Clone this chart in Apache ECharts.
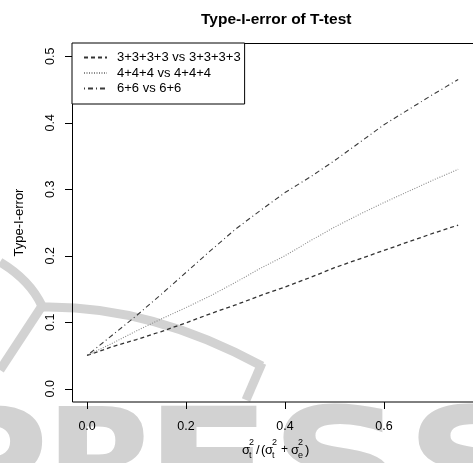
<!DOCTYPE html>
<html>
<head>
<meta charset="utf-8">
<script src="https://cdn.jsdelivr.net/npm/echarts@6/dist/echarts.min.js"></script>
<style>html,body{margin:0;padding:0;background:#fff}#c{width:473px;height:463px}</style>
</head>
<body>
<div id="c"></div>
<script>
const titleText = 'Type-I-error of T-test';
const yAxisName = 'Type-I-error';
const seriesNames = ['3+3+3+3 vs 3+3+3+3', '4+4+4 vs 4+4+4', '6+6 vs 6+6'];
const xValues = [0, 0.05, 0.1, 0.15, 0.2, 0.25, 0.3, 0.35, 0.4, 0.45, 0.5, 0.55, 0.6, 0.65, 0.7, 0.75];
const vals3333 = [0.050, 0.063, 0.074, 0.086, 0.099, 0.113, 0.126, 0.140, 0.153, 0.167, 0.182, 0.195, 0.208, 0.221, 0.234, 0.246];
const vals444 = [0.050, 0.068, 0.087, 0.105, 0.122, 0.140, 0.160, 0.181, 0.200, 0.222, 0.243, 0.262, 0.280, 0.297, 0.314, 0.330];
const vals66 = [0.050, 0.080, 0.110, 0.142, 0.175, 0.208, 0.240, 0.268, 0.295, 0.318, 0.343, 0.370, 0.397, 0.420, 0.443, 0.465];
const xTickValues = [0, 0.2, 0.4, 0.6];
const yTickValues = [0, 0.1, 0.2, 0.3, 0.4, 0.5];
const watermarkLetters = ['P', 'R', 'E', 'S', 'S'];

const chart = echarts.init(document.getElementById('c'), null, {renderer: 'canvas'});
const FONT = 'Liberation Sans';
const toPairs = v => xValues.map((x, i) => [x, v[i]]);
const styles = [
  {color: '#333', width: 1.3, type: [4, 3]},
  {color: '#8a8a8a', width: 1.1, type: [1, 1.5]},
  {color: '#3a3a3a', width: 1.1, type: [1, 3, 5, 3]}
];
const allVals = [vals3333, vals444, vals66];
const X_OFF = 13.5, Y_OFF = 15, TICK = 7;
const GRID = {left: 87.1, top: 56.3, width: 392.9, height: 332.4};
const X_MAX = 0.78, Y_MAX = 0.5;

const lineSeries = seriesNames.map((n, i) => ({
  name: n, type: 'line', data: toPairs(allVals[i]), symbol: 'none', z: 3, clip: false,
  lineStyle: {color: styles[i].color, width: styles[i].width, type: styles[i].type},
  itemStyle: {color: styles[i].color}
}));

chart.setOption({
  animation: false,
  backgroundColor: '#fff',
  title: {text: titleText, left: 196, top: 7,
    textStyle: {fontFamily: FONT, fontSize: 15.5, fontWeight: 'bold', color: '#000'}},
  legend: {orient: 'vertical', left: 72, top: 43, padding: [8, 4, 9, 11],
    borderColor: '#000', borderWidth: 1, backgroundColor: '#fff', z: 6,
    itemWidth: 23, itemHeight: 14, itemGap: 2.5,
    itemStyle: {opacity: 0},
    textStyle: {fontFamily: FONT, fontSize: 13, color: '#000', padding: [0, 0, 0, 5]},
    data: seriesNames},
  grid: Object.assign({show: false}, GRID),
  xAxis: {type: 'value', min: 0, max: X_MAX, interval: 0.2, offset: X_OFF,
    axisLine: {show: false, onZero: false}, splitLine: {show: false},
    axisTick: {show: false},
    axisLabel: {margin: 18, fontFamily: FONT, fontSize: 12.5, color: '#000', showMaxLabel: false,
      formatter: v => v.toFixed(1)}},
  yAxis: {type: 'value', min: 0, max: Y_MAX, interval: 0.1, offset: Y_OFF,
    name: yAxisName, nameLocation: 'middle', nameGap: 46, nameRotate: 90,
    nameTextStyle: {fontFamily: FONT, fontSize: 13, color: '#000'},
    axisLine: {show: false, onZero: false}, splitLine: {show: false},
    axisTick: {show: false},
    axisLabel: {margin: 15, rotate: 90, fontFamily: FONT, fontSize: 12.5, color: '#000',
      formatter: v => v.toFixed(1)}},
  series: lineSeries
});

// pixel position of a tick value, through the chart's own axis scale
function xPix(v) {
  let p = chart.convertToPixel({xAxisIndex: 0}, v);
  if (Array.isArray(p)) p = p[0];
  if (!isFinite(p)) p = GRID.left + v / X_MAX * GRID.width;
  return p;
}
function yPix(v) {
  let p = chart.convertToPixel({yAxisIndex: 0}, v);
  if (Array.isArray(p)) p = p[1];
  if (!isFinite(p)) p = GRID.top + (1 - v / Y_MAX) * GRID.height;
  return p;
}

const wmColor = '#d2d2d2';
const wmX = [-72, 45, 144, 270, 405];
const wmSX = [1.1, 1.0, 1.25, 1.25, 1.25];
const graphics = [];
watermarkLetters.forEach((ch, i) => {
  graphics.push({type: 'text', z: -10, x: wmX[i], y: 401, scaleX: wmSX[i],
    style: {text: ch, font: 'bold 150px "DejaVu Sans"', fill: wmColor, textVerticalAlign: 'top'}});
});
const wmLine = {stroke: wmColor, lineWidth: 9, fill: null, lineCap: 'butt'};
graphics.push({type: 'bezierCurve', z: -10, shape: {x1: 0, y1: 262, cpx1: 30, cpy1: 280, x2: 42, y2: 306}, style: wmLine});
graphics.push({type: 'line', z: -10, shape: {x1: 0, y1: 370, x2: 42, y2: 306}, style: wmLine});
graphics.push({type: 'bezierCurve', z: -10, shape: {x1: 42, y1: 307, cpx1: 150, cpy1: 305, x2: 262, y2: 366}, style: wmLine});
graphics.push({type: 'line', z: -10, shape: {x1: 262, y1: 363, x2: 246, y2: 400}, style: wmLine});
graphics.push({type: 'rect', z: 5, shape: {x: 72.5, y: 43.5, width: 408, height: 358.5},
  style: {stroke: '#000', lineWidth: 1, fill: null}});

const boxBottom = GRID.top + GRID.height + X_OFF;
const boxLeft = GRID.left - Y_OFF;
xTickValues.forEach(v => {
  const x = Math.round(xPix(v)) + 0.5;
  graphics.push({type: 'polyline', z: 7,
    shape: {points: [[x, Math.round(boxBottom)], [x, Math.round(boxBottom) + TICK]]},
    style: {stroke: '#000', lineWidth: 1, fill: null}});
});
yTickValues.forEach(v => {
  const y = Math.round(yPix(v)) + 0.5;
  graphics.push({type: 'polyline', z: 7,
    shape: {points: [[Math.round(boxLeft), y], [Math.round(boxLeft) - TICK, y]]},
    style: {stroke: '#000', lineWidth: 1, fill: null}});
});

const xt = [
  ['σ', 242, 450, 13], ['2', 249, 443, 9], ['t', 249, 456, 9],
  ['/', 256, 450, 13], ['(', 261, 450, 13], ['σ', 265, 450, 13], ['2', 272, 443, 9], ['t', 272, 456, 9],
  ['+', 281, 450, 12], ['σ', 291, 450, 13], ['2', 298, 443, 9], ['e', 298, 456, 9], [')', 305, 450, 13]
];
xt.forEach(t => graphics.push({type: 'text', x: t[1], y: t[2],
  style: {text: t[0], font: t[3] + 'px "' + FONT + '"', fill: '#000', textVerticalAlign: 'middle'}}));

chart.setOption({graphic: graphics});
</script>
</body>
</html>
